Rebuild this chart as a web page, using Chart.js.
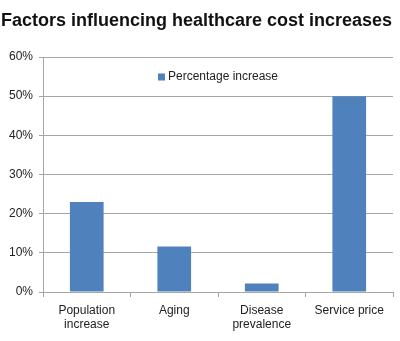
<!DOCTYPE html>
<html>
<head>
<meta charset="utf-8">
<script src="https://cdn.jsdelivr.net/npm/chart.js@4/dist/chart.umd.min.js"></script>
<style>
  html, body { margin: 0; padding: 0; background: #fff; }
  #wrap { width: 400px; height: 341px; }
</style>
</head>
<body>
<div id="wrap"><canvas id="chart"></canvas></div>
<script>
const categories = [['Population', 'increase'], 'Aging', ['Disease', 'prevalence'], 'Service price'];
const percentIncrease = [23, 11.6, 2.2, 50];
const yTicks = [0, 10, 20, 30, 40, 50, 60];

const FONT = "'Liberation Sans', Arial, sans-serif";
const GRID = '#a6a6a6';

// legend drawn inside the plot, centred near the top
const insideLegend = {
  id: 'insideLegend',
  afterDatasetsDraw(chart) {
    const { ctx, chartArea } = chart;
    const ds = chart.data.datasets[0];
    ctx.save();
    ctx.font = '12px ' + FONT;
    const box = 7, gap = 3;
    const textW = ctx.measureText(ds.label).width;
    const total = box + gap + textW;
    const x0 = (chartArea.left + chartArea.right) / 2 - total / 2;
    const cy = chartArea.top + 20;
    ctx.fillStyle = ds.backgroundColor;
    ctx.fillRect(x0, cy - box / 2, box, box);
    ctx.fillStyle = '#222';
    ctx.textBaseline = 'middle';
    ctx.fillText(ds.label, x0 + box + gap, cy);
    ctx.restore();
  }
};

const ctx = document.getElementById('chart').getContext('2d');
new Chart(ctx, {
  type: 'bar',
  data: {
    labels: categories,
    datasets: [{
      label: 'Percentage increase',
      data: percentIncrease,
      backgroundColor: '#4F81BD',
      borderWidth: 0,
      categoryPercentage: 1,
      barPercentage: 0.385
    }]
  },
  options: {
    responsive: true,
    maintainAspectRatio: false,
    animation: false,
    layout: { padding: { left: 0, right: 7, top: 0, bottom: 0 } },
    plugins: {
      title: {
        display: true,
        text: 'Factors influencing healthcare cost increases',
        color: '#111',
        font: { family: FONT, size: 18, weight: 'bold', lineHeight: 1.2 },
        padding: { top: 10, bottom: 25.4 }
      },
      legend: { display: false },
      tooltip: { enabled: false }
    },
    scales: {
      x: {
        offset: true,
        border: { color: GRID, width: 1 },
        grid: { offset: true, drawOnChartArea: false, drawTicks: true, tickLength: 5, color: GRID },
        ticks: { color: '#222', font: { family: FONT, size: 12 }, padding: 6, maxRotation: 0 },
        afterFit: scale => { scale.height = 49; }
      },
      y: {
        min: 0,
        max: 60,
        afterBuildTicks: scale => { scale.ticks = yTicks.map(v => ({ value: v })); },
        border: { color: GRID, width: 1 },
        grid: { color: GRID, tickLength: 4, drawTicks: true },
        ticks: {
          color: '#222',
          font: { family: FONT, size: 12 },
          padding: 6,
          callback: v => v + '%'
        },
        afterFit: scale => { scale.width = 43; }
      }
    }
  },
  plugins: [insideLegend]
});
</script>
</body>
</html>
